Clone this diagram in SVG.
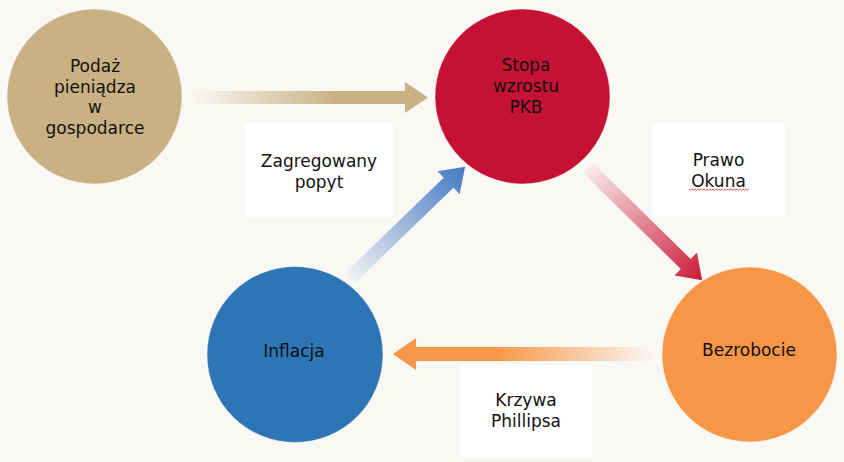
<svg xmlns="http://www.w3.org/2000/svg" width="844" height="462" viewBox="0 0 844 462">
  <style>
    .lbl { font-family: "DejaVu Sans", Verdana, sans-serif; font-size: 17px; fill: #111; text-anchor: middle; }
    .node { stroke: #ffffff; stroke-opacity: 0.45; stroke-width: 1; }
    .box { fill: #ffffff; }
  </style>
  <defs>
    <linearGradient id="gTan" x1="0" y1="0" x2="1" y2="0">
      <stop offset="0" stop-color="#c9b183" stop-opacity="0"/>
      <stop offset="0.62" stop-color="#c9b183" stop-opacity="1"/>
      <stop offset="1" stop-color="#c9b183" stop-opacity="1"/>
    </linearGradient>
    <linearGradient id="gRed" x1="0" y1="0" x2="1" y2="0">
      <stop offset="0" stop-color="#c8102e" stop-opacity="0.05"/>
      <stop offset="1" stop-color="#c8102e" stop-opacity="0.95"/>
    </linearGradient>
    <linearGradient id="gBlue" x1="0" y1="0" x2="1" y2="0">
      <stop offset="0" stop-color="#3a72c0" stop-opacity="0.05"/>
      <stop offset="1" stop-color="#3a72c0" stop-opacity="0.95"/>
    </linearGradient>
    <linearGradient id="gOrange" x1="0" y1="0" x2="1" y2="0">
      <stop offset="0" stop-color="#f79646" stop-opacity="0"/>
      <stop offset="0.62" stop-color="#f79646" stop-opacity="1"/>
      <stop offset="1" stop-color="#f79646" stop-opacity="1"/>
    </linearGradient>
  </defs>

  <rect x="0" y="0" width="844" height="462" fill="#faf8f5"/>

  <g id="connectors">
    <path d="M0,-6.5 H215 V-15.5 L238,0 L215,15.5 V6.5 H0 Z" fill="url(#gTan)" transform="translate(190,97.5)"/>
    <path d="M0,-7 H137 V-16 L160,0 L137,16 V7 H0 Z" fill="url(#gRed)" transform="translate(588,168) rotate(44.5)"/>
    <path d="M0,-7 H137 V-16 L160,0 L137,16 V7 H0 Z" fill="url(#gBlue)" transform="translate(350,278) rotate(-44)"/>
    <path d="M0,-7 H241 V-16 L264,0 L241,16 V7 H0 Z" fill="url(#gOrange)" transform="translate(657,354) rotate(180)"/>
  </g>

  <g id="label-zagregowany">
    <rect class="box" x="245" y="123" width="148" height="94"/>
    <text class="lbl" x="319" y="166.5">Zagregowany</text>
    <text class="lbl" x="319" y="187.5">popyt</text>
  </g>

  <g id="label-okun">
    <rect class="box" x="652" y="123" width="133" height="93"/>
    <text class="lbl" x="718.5" y="166">Prawo</text>
    <text class="lbl" x="718.5" y="186.5">Okuna</text>
    <path d="M689,189 l1.5,1.2 l1.5,-1.2 l1.5,1.2 l1.5,-1.2 l1.5,1.2 l1.5,-1.2 l1.5,1.2 l1.5,-1.2 l1.5,1.2 l1.5,-1.2 l1.5,1.2 l1.5,-1.2 l1.5,1.2 l1.5,-1.2 l1.5,1.2 l1.5,-1.2 l1.5,1.2 l1.5,-1.2 l1.5,1.2 l1.5,-1.2 l1.5,1.2 l1.5,-1.2 l1.5,1.2 l1.5,-1.2 l1.5,1.2 l1.5,-1.2 l1.5,1.2 l1.5,-1.2 l1.5,1.2 l1.5,-1.2 l1.5,1.2 l1.5,-1.2 l1.5,1.2 l1.5,-1.2 l1.5,1.2 l1.5,-1.2 l1.5,1.2 l1.5,-1.2 l1.5,1.2 l1.5,-1.2" fill="none" stroke="#e0302a" stroke-width="0.8"/>
  </g>

  <g id="label-phillips">
    <rect class="box" x="460" y="365" width="132" height="92"/>
    <text class="lbl" x="526" y="406">Krzywa</text>
    <text class="lbl" x="526" y="426.5">Phillipsa</text>
  </g>

  <g id="node-podaz">
    <circle class="node" cx="94.5" cy="96.5" r="87.5" fill="#c9b183"/>
    <text class="lbl" x="95" y="72">Podaż</text>
    <text class="lbl" x="95" y="92.5">pieniądza</text>
    <text class="lbl" x="95" y="113">w</text>
    <text class="lbl" x="95" y="133.5">gospodarce</text>
  </g>

  <g id="node-pkb">
    <circle class="node" cx="522.5" cy="96.5" r="87.5" fill="#c41134"/>
    <text class="lbl" x="526" y="71">Stopa</text>
    <text class="lbl" x="526" y="92">wzrostu</text>
    <text class="lbl" x="526" y="113">PKB</text>
  </g>

  <g id="node-bezrobocie">
    <circle class="node" cx="749.5" cy="354.5" r="87.5" fill="#f79646"/>
    <text class="lbl" x="749" y="356">Bezrobocie</text>
  </g>

  <g id="node-inflacja">
    <circle class="node" cx="295" cy="354.5" r="88" fill="#2e75b6"/>
    <text class="lbl" x="294" y="356.5" fill="#0d1a33">Inflacja</text>
  </g>
</svg>
